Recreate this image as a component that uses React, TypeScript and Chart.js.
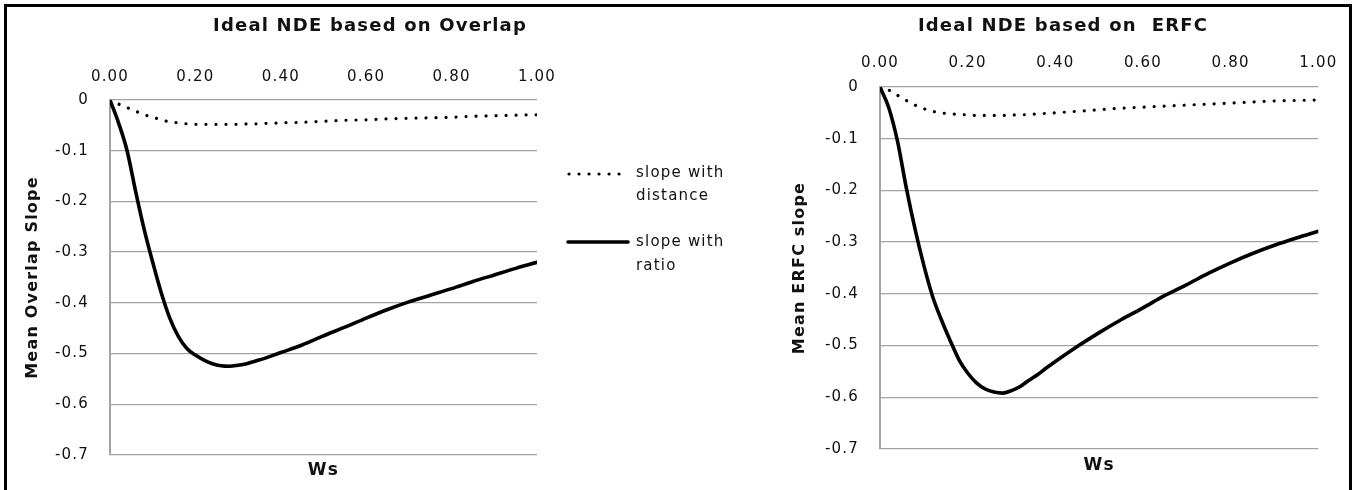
import React, { useEffect, useRef } from "react";
import { Chart, registerables } from "chart.js";

Chart.register(...registerables);

// Ws sample positions shared by every series
const wsValues = [
  0, 0.02, 0.04, 0.06, 0.08, 0.1, 0.12, 0.14, 0.16, 0.18, 0.2, 0.22, 0.24, 0.26, 0.28, 0.3, 0.32,
  0.34, 0.36, 0.38, 0.4, 0.45, 0.5, 0.55, 0.6, 0.65, 0.7, 0.75, 0.8, 0.85, 0.9, 0.95, 1.0,
];

// Overlap-based NDE
const overlapDistance = [
  0, -0.008, -0.015, -0.022, -0.029, -0.034, -0.039, -0.043, -0.045, -0.047, -0.048, -0.048,
  -0.048, -0.048, -0.048, -0.048, -0.047, -0.047, -0.046, -0.046, -0.045, -0.044, -0.042, -0.04,
  -0.039, -0.037, -0.036, -0.035, -0.034, -0.032, -0.031, -0.03, -0.029,
];
const overlapRatio = [
  0, -0.045, -0.1, -0.18, -0.255, -0.32, -0.38, -0.43, -0.466, -0.49, -0.503, -0.513, -0.52,
  -0.524, -0.525, -0.523, -0.52, -0.515, -0.51, -0.504, -0.498, -0.483, -0.465, -0.448, -0.43,
  -0.413, -0.398, -0.385, -0.372, -0.358, -0.345, -0.332, -0.32,
];

// ERFC-based NDE
const erfcDistance = [
  0, -0.006, -0.016, -0.026, -0.035, -0.042, -0.047, -0.05, -0.052, -0.053, -0.054, -0.055, -0.055,
  -0.055, -0.055, -0.054, -0.054, -0.053, -0.052, -0.051, -0.05, -0.047, -0.044, -0.041, -0.039,
  -0.037, -0.035, -0.033, -0.031, -0.029, -0.027, -0.026, -0.025,
];
const erfcRatio = [
  0, -0.04, -0.105, -0.195, -0.275, -0.345, -0.405, -0.45, -0.49, -0.527, -0.553, -0.572, -0.584,
  -0.59, -0.592, -0.587, -0.579, -0.567, -0.556, -0.543, -0.531, -0.502, -0.475, -0.45, -0.427,
  -0.403, -0.382, -0.36, -0.34, -0.322, -0.306, -0.292, -0.279,
];

const chartTitles = ["Ideal NDE based on Overlap", "Ideal NDE based on  ERFC"];
const yAxisTitles = ["Mean Overlap Slope", "Mean ERFC slope"];
const xAxisTitle = "Ws";
const seriesLabels = ["slope with distance", "slope with ratio"];
const legendLines = [
  ["slope with", "distance"],
  ["slope with", "ratio"],
];

const X_MIN = 0;
const X_MAX = 1;
const X_STEP = 0.2;
const Y_MIN = -0.7;
const Y_MAX = 0;
const Y_STEP = 0.1;

const FONT_FAMILY = "'DejaVu Sans', Verdana, sans-serif";
const TEXT_COLOR = "#111111";
const GRID_COLOR = "#a3a3a3";
const LETTER_SPACING = "1.2px";

const TITLE_SIZE = 18;
const TICK_SIZE = 15;
const Y_TITLE_SIZE = 16;
const X_TITLE_SIZE = 17;

type Frame = {
  canvasLeft: number;
  width: number;
  height: number;
  left: number;
  right: number;
  top: number;
  bottom: number;
  titleCenterY: number;
  tickCenterY: number;
  yTitleCenterX: number;
  xTitleCenterY: number;
  legend: boolean;
};

const frames: Frame[] = [
  {
    canvasLeft: 0,
    width: 740,
    height: 490,
    left: 110,
    right: 537,
    top: 100,
    bottom: 455,
    titleCenterY: 26,
    tickCenterY: 77,
    yTitleCenterX: 33,
    xTitleCenterY: 471,
    legend: true,
  },
  {
    canvasLeft: 776,
    width: 574,
    height: 490,
    left: 104,
    right: 544,
    top: 87,
    bottom: 449,
    titleCenterY: 26,
    tickCenterY: 63,
    yTitleCenterX: 24,
    xTitleCenterY: 466,
    legend: false,
  },
];

const toPoints = (ys: number[]) => wsValues.map((x, i) => ({ x, y: ys[i] }));

function drawLegend(chart: any) {
  const ctx = chart.ctx as CanvasRenderingContext2D;
  const ds = chart.data.datasets;
  const items = [
    { ds: ds[0], x0: 569, x1: 622, y: 174, textY: [173, 196] },
    { ds: ds[1], x0: 568, x1: 628, y: 242, textY: [242, 266] },
  ];
  ctx.save();
  items.forEach((it, i) => {
    ctx.beginPath();
    ctx.setLineDash(it.ds.borderDash || []);
    ctx.lineCap = it.ds.borderCapStyle || "butt";
    ctx.lineWidth = it.ds.borderWidth;
    ctx.strokeStyle = it.ds.borderColor;
    ctx.moveTo(it.x0, it.y);
    ctx.lineTo(it.x1, it.y);
    ctx.stroke();
    ctx.setLineDash([]);
    ctx.font = `${TICK_SIZE}px ${FONT_FAMILY}`;
    ctx.fillStyle = TEXT_COLOR;
    ctx.textAlign = "left";
    ctx.textBaseline = "middle";
    (ctx as any).letterSpacing = LETTER_SPACING;
    legendLines[i].forEach((line, j) => ctx.fillText(line, 636, it.textY[j]));
  });
  ctx.restore();
}

function makeConfig(
  title: string,
  yTitle: string,
  distance: number[],
  ratio: number[],
  f: Frame
): any {
  const titleLH = TITLE_SIZE * 1.2;
  const titlePadTop = f.titleCenterY - titleLH / 2;
  const titleBlock = titleLH + titlePadTop;
  const tickLH = TICK_SIZE * 1.2;

  const textPlugin = {
    id: "textAndLegend",
    beforeDraw(chart: any) {
      chart.ctx.letterSpacing = LETTER_SPACING;
    },
    afterDraw(chart: any) {
      if (f.legend) drawLegend(chart);
      chart.ctx.letterSpacing = "0px";
    },
  };

  return {
    type: "line",
    data: {
      datasets: [
        {
          label: seriesLabels[0],
          data: toPoints(distance),
          xAxisID: "x",
          yAxisID: "y",
          borderColor: "#000000",
          borderWidth: 3.2,
          borderDash: [0.01, 10],
          borderCapStyle: "round",
          pointRadius: 0,
          fill: false,
          cubicInterpolationMode: "monotone",
        },
        {
          label: seriesLabels[1],
          data: toPoints(ratio),
          xAxisID: "x",
          yAxisID: "y",
          borderColor: "#000000",
          borderWidth: 3.6,
          borderCapStyle: "round",
          borderJoinStyle: "round",
          pointRadius: 0,
          fill: false,
          cubicInterpolationMode: "monotone",
        },
      ],
    },
    options: {
      responsive: false,
      animation: false,
      events: [],
      layout: { padding: 0 },
      plugins: {
        legend: { display: false },
        tooltip: { enabled: false },
        title: {
          display: true,
          text: title,
          color: TEXT_COLOR,
          font: { family: FONT_FAMILY, size: TITLE_SIZE, weight: "bold" },
          padding: { top: titlePadTop, bottom: 0 },
        },
      },
      scales: {
        x: {
          type: "linear",
          position: "top",
          min: X_MIN,
          max: X_MAX,
          grid: { display: false, drawTicks: false },
          border: { display: false },
          ticks: {
            stepSize: X_STEP,
            padding: f.top - f.tickCenterY - tickLH / 2,
            maxRotation: 0,
            autoSkip: false,
            color: TEXT_COLOR,
            font: { family: FONT_FAMILY, size: TICK_SIZE },
            callback: (v: any) => Number(v).toFixed(2),
          },
          afterFit: (s: any) => {
            s.height = f.top - titleBlock;
          },
        },
        xb: {
          type: "linear",
          axis: "x",
          position: "bottom",
          min: X_MIN,
          max: X_MAX,
          grid: { display: false, drawTicks: false },
          border: { display: false },
          ticks: { display: false },
          title: {
            display: true,
            text: xAxisTitle,
            color: TEXT_COLOR,
            font: { family: FONT_FAMILY, size: X_TITLE_SIZE, weight: "bold" },
            padding: { top: 0, bottom: f.height - f.xTitleCenterY - (X_TITLE_SIZE * 1.2) / 2 },
          },
          afterFit: (s: any) => {
            s.height = f.height - f.bottom;
          },
        },
        y: {
          type: "linear",
          position: "left",
          min: Y_MIN,
          max: Y_MAX,
          grid: { color: GRID_COLOR, lineWidth: 1.3, drawTicks: false },
          border: { display: true, color: GRID_COLOR, width: 2 },
          ticks: {
            stepSize: Y_STEP,
            padding: 21,
            color: TEXT_COLOR,
            font: { family: FONT_FAMILY, size: TICK_SIZE },
            callback: (v: any) => {
              const r = Math.round(Number(v) * 10) / 10;
              return r === 0 ? "0" : r.toFixed(1);
            },
          },
          title: {
            display: true,
            text: yTitle,
            color: TEXT_COLOR,
            font: { family: FONT_FAMILY, size: Y_TITLE_SIZE, weight: "bold" },
            padding: { top: f.yTitleCenterX - (Y_TITLE_SIZE * 1.2) / 2, bottom: 0 },
          },
          afterFit: (s: any) => {
            s.width = f.left;
          },
        },
        yPad: {
          type: "linear",
          axis: "y",
          position: "right",
          grid: { display: false, drawTicks: false },
          border: { display: false },
          ticks: { display: false },
          afterFit: (s: any) => {
            s.width = f.width - f.right;
          },
        },
      },
    },
    plugins: [textPlugin],
  };
}

export default function App() {
  const leftRef = useRef<HTMLCanvasElement | null>(null);
  const rightRef = useRef<HTMLCanvasElement | null>(null);

  useEffect(() => {
    document.body.style.margin = "0";
    const charts: Chart[] = [];
    if (leftRef.current) {
      charts.push(
        new Chart(
          leftRef.current,
          makeConfig(chartTitles[0], yAxisTitles[0], overlapDistance, overlapRatio, frames[0])
        )
      );
    }
    if (rightRef.current) {
      charts.push(
        new Chart(
          rightRef.current,
          makeConfig(chartTitles[1], yAxisTitles[1], erfcDistance, erfcRatio, frames[1])
        )
      );
    }
    return () => charts.forEach((c) => c.destroy());
  }, []);

  return (
    <div
      style={{
        position: "fixed",
        left: 0,
        top: 0,
        width: 1353,
        height: 490,
        overflow: "hidden",
        background: "#ffffff",
      }}
    >
      <canvas
        ref={leftRef}
        width={frames[0].width}
        height={frames[0].height}
        style={{ position: "absolute", left: frames[0].canvasLeft, top: 0, width: frames[0].width, height: frames[0].height }}
      />
      <canvas
        ref={rightRef}
        width={frames[1].width}
        height={frames[1].height}
        style={{ position: "absolute", left: frames[1].canvasLeft, top: 0, width: frames[1].width, height: frames[1].height }}
      />
      <div
        style={{
          position: "absolute",
          left: 4,
          top: 4,
          width: 1348,
          height: 520,
          border: "3px solid #000000",
          boxSizing: "border-box",
          pointerEvents: "none",
        }}
      />
    </div>
  );
}
